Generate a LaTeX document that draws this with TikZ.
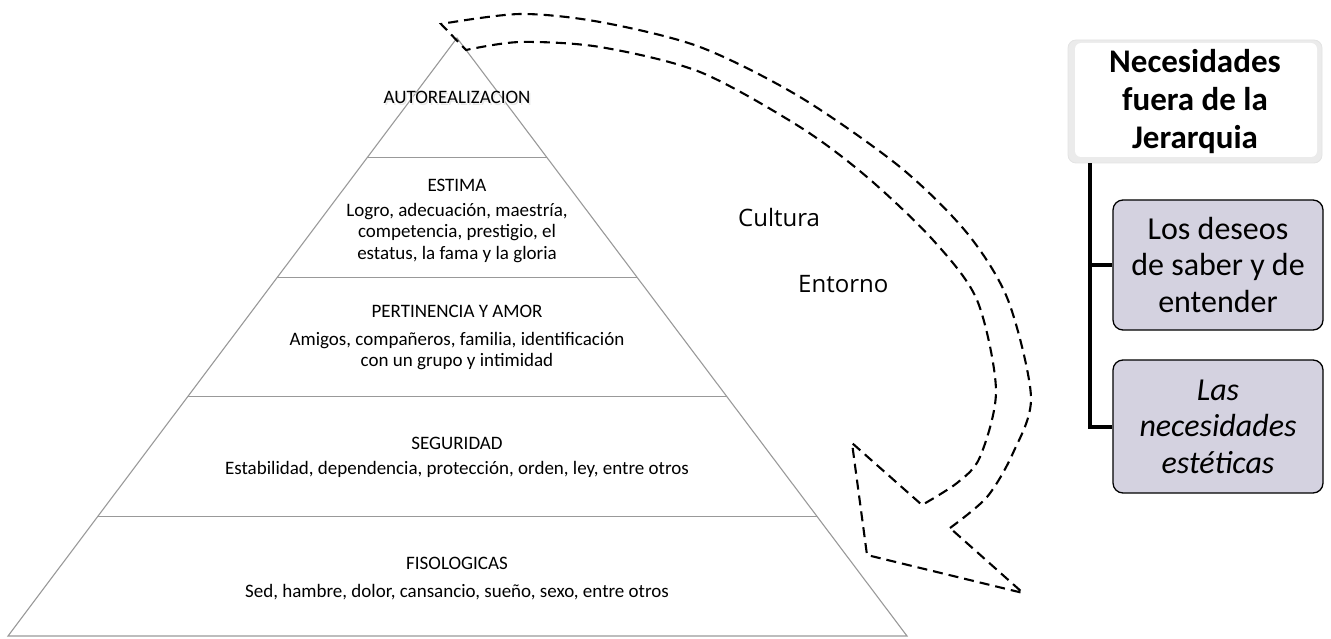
\documentclass[tikz,border=0pt]{standalone}
\usepackage{fontspec}
\setmainfont{Carlito}
\newfontfamily\opensans{Open Sans}
\usetikzlibrary{calc}
\definecolor{boxfill}{RGB}{212,210,224}
\begin{document}
\begin{tikzpicture}[x=1pt,y=-1pt,
  pyr/.style={draw=gray!80, line width=1.1pt},
  lvltitle/.style={font=\fontsize{19}{21.5}\selectfont, inner sep=0pt},
  lvlbody/.style={font=\fontsize{19}{21.5}\selectfont, align=center, inner sep=0pt},
  sidelabel/.style={font=\opensans\fontsize{24}{28}\selectfont, inner sep=0pt, anchor=base west},
  dasharrow/.style={line width=2.1pt, dash pattern=on 10pt off 6pt, black},
  topbox/.style={rounded corners=8pt, fill=gray!16, draw=gray!22, line width=0.8pt,
    minimum width=254pt, minimum height=123pt, inner sep=0pt, align=center,
    font=\bfseries\fontsize{33}{38}\selectfont,
    path picture={\fill[white, rounded corners=6pt]
      ([shift={(7pt,-3pt)}]path picture bounding box.north west) rectangle
      ([shift={(-5pt,6pt)}]path picture bounding box.south east);}},
  childbox/.style={rounded corners=10pt, fill=boxfill, draw=black, line width=1.3pt,
    minimum width=210pt, inner sep=0pt, align=center,
    font=\fontsize{32}{36.5}\selectfont},
  conn/.style={line width=4pt, black}
]
\useasboundingbox (0,0) rectangle (1331,639);

% ---------- pyramid ----------
\coordinate (apex) at (457,38);
\coordinate (bl) at (8,636);
\coordinate (br) at (907,636);
\draw[pyr] (apex) -- (bl) -- (br) -- cycle;
\foreach \t in {0.2,0.4,0.6,0.8}{
  \draw[pyr] ($(apex)!\t!(bl)$) -- ($(apex)!\t!(br)$);
}

\node[lvltitle, text=gray!18] (t1s) at (458.5,99.5) {AUTOREALIZACION};
\node[lvltitle] (t1) at (457,97) {AUTOREALIZACION};

\node[lvltitle] (t2) at (457,185) {ESTIMA};
\node[lvlbody] (b2) at (457,233) {Logro, adecuación, maestría,\\competencia, prestigio, el\\estatus, la fama y la gloria};

\node[lvltitle] (t3) at (457,311) {PERTINENCIA Y AMOR};
\node[lvlbody] (b3) at (457,351) {Amigos, compañeros, familia, identificación\\con un grupo y intimidad};

\node[lvltitle] (t4) at (457,443) {SEGURIDAD};
\node[lvlbody] (b4) at (457,469) {Estabilidad, dependencia, protección, orden, ley, entre otros};

\node[lvltitle] (t5) at (457,563) {FISOLOGICAS};
\node[lvlbody] (b5) at (457,592) {Sed, hambre, dolor, cansancio, sueño, sexo, entre otros};

% ---------- labels ----------
\node[sidelabel] (cultura) at (738,227) {Cultura};
\node[sidelabel] (entorno) at (798,292) {Entorno};

% ---------- dashed curved arrow ----------
\draw[dasharrow] plot[smooth] coordinates {(950,528) (987,497) (1013,453) (1031,397) (1008,300) (967,233) (900,167) (800,97) (700,47) (600,22) (520,14) (441,24)}
  -- (466,50)
  -- plot[smooth] coordinates {(466,50) (520,42) (600,47) (700,72) (800,127) (867,177) (933,240) (977,300) (996,390) (980,457) (957,483) (922,505)}
  -- (852,443) -- (867,555) -- (1023,593) -- cycle;

% ---------- right column ----------
\node[topbox] (top) at (1195,101.5) {Necesidades\\fuera de la\\Jerarquia};
\node[childbox, minimum height=130pt] (c1) at (1218,265) {Los deseos\\de saber y de\\entender};
\node[childbox, minimum height=133pt, font=\itshape\fontsize{32}{36.5}\selectfont] (c2) at (1218,426.5) {Las\\necesidades\\estéticas};

\coordinate (stem) at ($(top.south west)+(22,0)$);
\draw[conn] (stem) |- (c1.west);
\draw[conn] (stem) |- (c2.west);
\end{tikzpicture}
\end{document}
